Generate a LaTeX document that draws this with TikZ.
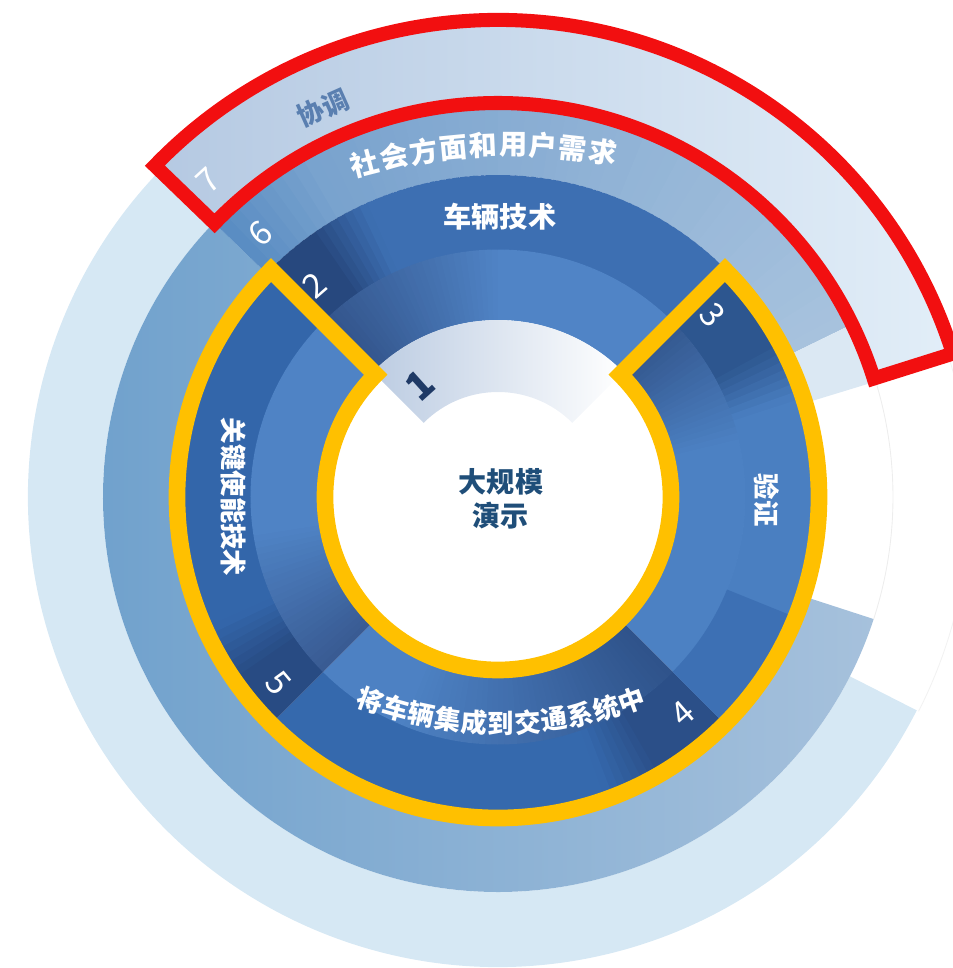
\documentclass[tikz,border=0pt]{standalone}
\usepackage{fontspec}
\newfontfamily\cjk{Noto Sans CJK SC}
\usetikzlibrary{calc}
\definecolor{ringseven}{HTML}{D6E8F4}
\definecolor{redboxL}{HTML}{B5C9E2}
\definecolor{redboxR}{HTML}{E2EEF8}
\definecolor{sixL}{HTML}{6EA0CC}
\definecolor{sixR}{HTML}{A6C1DC}
\definecolor{sixTopDark}{HTML}{5A8DC3}
\definecolor{sixTopLight}{HTML}{A8C3DE}
\definecolor{sixLight}{HTML}{DBE8F3}
\definecolor{redline}{HTML}{F20F10}
\definecolor{goldline}{HTML}{FFC000}
\definecolor{onecol}{HTML}{BCCCE2}
\definecolor{centertext}{HTML}{1F4E79}
\definecolor{navynum}{HTML}{1F3A66}
\definecolor{xietiao}{HTML}{5A7FB0}
% sector colours
\definecolor{tabA}{HTML}{27487E}\definecolor{baseA}{HTML}{3D6FB2}
\definecolor{inDA}{HTML}{33558C}\definecolor{inLA}{HTML}{5084C6}
\definecolor{tabB}{HTML}{2D568F}\definecolor{baseB}{HTML}{4A7FC1}
\definecolor{inDB}{HTML}{34588F}\definecolor{inLB}{HTML}{4C81C3}
\definecolor{tabC}{HTML}{2B4F88}\definecolor{baseC}{HTML}{3569AD}
\definecolor{inDC}{HTML}{2F538B}\definecolor{inLC}{HTML}{4D81C3}
\definecolor{tabD}{HTML}{284B83}\definecolor{baseD}{HTML}{3366AA}
\definecolor{inDD}{HTML}{395B93}\definecolor{inLD}{HTML}{4F83C5}
\definecolor{darkB}{HTML}{3D70B4}

% #1 start angle, #2 tab end (fraction), #3 tab colour, #4 outer base,
% #5 inner dark, #6 inner light, #7 ramp end (fraction)
\newcommand{\ringsector}[7]{%
 \foreach \i in {0,...,59}{%
  \pgfmathsetmacro{\aa}{#1-1.5*\i}%
  \pgfmathsetmacro{\ab}{max(#1-90,#1-1.5*\i-2)}%
  \pgfmathtruncatemacro{\po}{max(0,min(100,(\i/60-#2)/0.12*100))}%
  \pgfmathtruncatemacro{\pin}{min(100,\i/60/#7*100)}%
  \fill[#4!\po!#3] (\aa:322) arc[start angle=\aa,end angle=\ab,radius=322]
     -- (\ab:247) arc[start angle=\ab,end angle=\aa,radius=247] -- cycle;
  \fill[#6!\pin!#5] (\aa:247.5) arc[start angle=\aa,end angle=\ab,radius=247.5]
     -- (\ab:177) arc[start angle=\ab,end angle=\aa,radius=177] -- cycle;
 }}

\begin{document}
\begin{tikzpicture}[x=0.02cm,y=0.02cm,line join=miter,
  lbl/.style={font={\cjk\bfseries\fontsize{15}{15}\selectfont},text=white,inner sep=0pt},
  lblbig/.style={font={\cjk\bfseries\fontsize{16}{16}\selectfont},text=white,inner sep=0pt},
  num/.style={font={\cjk\fontsize{19}{19}\selectfont},text=white,inner sep=0pt},
  goldpath/.style={draw=goldline,line width=9.5pt},
  redpath/.style={draw=redline,line width=8pt}]
\useasboundingbox (-498,-471) rectangle (455,497);

% ---- ring 7 (outermost, light)
\fill[ringseven] (17.5:470) arc[start angle=17.5,end angle=333,radius=470]
  -- (333:395) arc[start angle=333,end angle=17.5,radius=395] -- cycle;
% highlighted part inside the red frame
\path[left color=redboxL,right color=redboxR]
  (17.5:477) arc[start angle=17.5,end angle=136,radius=477]
  -- (136:394) arc[start angle=136,end angle=17.5,radius=394] -- cycle;

% ---- ring 6
\path[left color=sixL,right color=sixR]
  (136:395) arc[start angle=136,end angle=342,radius=395]
  -- (342:322) arc[start angle=342,end angle=136,radius=322] -- cycle;
\foreach \i in {0,...,54}{%
  \pgfmathsetmacro{\aa}{136-2*\i}%
  \pgfmathsetmacro{\ab}{max(26,136-2*\i-2.5)}%
  \pgfmathtruncatemacro{\p}{\aa>120 ? (136-\aa)/16*40 : 40+(120-\aa)/94*60}%
  \fill[sixTopLight!\p!sixTopDark] (\aa:395) arc[start angle=\aa,end angle=\ab,radius=395]
    -- (\ab:322) arc[start angle=\ab,end angle=\aa,radius=322] -- cycle;
}
\fill[sixLight] (17:395) arc[start angle=17,end angle=26,radius=395]
  -- (26:322) arc[start angle=26,end angle=17,radius=322] -- cycle;

% faint outlines in the open gap
\draw[gray!14,line width=0.5pt] (-18:395) arc[start angle=-18,end angle=17,radius=395];
\draw[gray!10,line width=0.5pt] (-27:472) arc[start angle=-27,end angle=17.5,radius=472];

% ---- red frame (7)
\draw[redpath] (17.5:477) arc[start angle=17.5,end angle=136,radius=477]
  -- (136:394) arc[start angle=136,end angle=17.5,radius=394] -- cycle;

% ---- inner annulus: sectors 2,3,4,5
\ringsector{135}{0.10}{tabA}{baseA}{inDA}{inLA}{0.5}
\ringsector{45}{0.17}{tabB}{baseB}{inDB}{inLB}{0.35}
\ringsector{-45}{0.15}{tabC}{baseC}{inDC}{inLC}{0.75}
\ringsector{-135}{0.10}{tabD}{baseD}{inDD}{inLD}{0.4}
\fill[darkB] (-22:322) arc[start angle=-22,end angle=-45,radius=322]
  -- (-45:247) arc[start angle=-45,end angle=-22,radius=247] -- cycle;

% ---- zone 1 wedge
\path[left color=onecol,middle color=onecol!35!white,right color=white]
  (45:177) arc[start angle=45,end angle=135,radius=177]
  -- (135:105) arc[start angle=135,end angle=45,radius=105] -- cycle;

% ---- gold outline
\draw[goldpath] (135:173) -- (135:321) arc[start angle=135,end angle=405,radius=321]
  -- (45:173) arc[start angle=45,end angle=-225,radius=173] -- cycle;

% ---- texts
\node[font={\cjk\bfseries\fontsize{16}{19}\selectfont},text=centertext,align=center,inner sep=0pt]
  (centre) at (3,-2) {大规模\\演示};
\node[lblbig] (vehtech) at (2,280) {车辆技术};
\node[lbl,rotate=-90] (enabling) at (-265,0) {关键使能技术};
\node[lbl,rotate=-90] (validation) at (269,-3) {验证};
\node[font={\cjk\bfseries\fontsize{15}{15}\selectfont},text=xietiao,inner sep=0pt,rotate=24]
  (coord) at (-175,389) {协调};

\foreach \ch [count=\k from 0] in {社,会,方,面,和,用,户,需,求}{%
  \pgfmathsetmacro{\ang}{92.6+(4-\k)*2.91}%
  \node[lblbig,rotate=\ang-90] (soc\k) at ([shift={(12,-238)}]\ang:590) {\ch};
}
\foreach \ch [count=\k from 0] in {将,车,辆,集,成,到,交,通,系,统,中}{%
  \pgfmathsetmacro{\ang}{270+(\k-5)*3.94}%
  \node[lbl,rotate=\ang-270] (integ\k) at ([shift={(3,161)}]\ang:387) {\ch};
}

% ---- numbers
\node[num,rotate=42.5] (n7) at (-290,317) {7};
\node[num,rotate=42] (n6) at (-238,264) {6};
\node[num,rotate=41] (n2) at (-183,212) {2};
\node[font={\cjk\bfseries\fontsize{22}{22}\selectfont},text=navynum,inner sep=0pt,rotate=42]
  (n1) at (-78,112) {1};
\node[num,rotate=-50] (n3) at (215,182) {3};
\node[num,rotate=41] (n4) at (185,-216) {4};
\node[num,rotate=-50] (n5) at (-220,-186) {5};
\end{tikzpicture}
\end{document}
